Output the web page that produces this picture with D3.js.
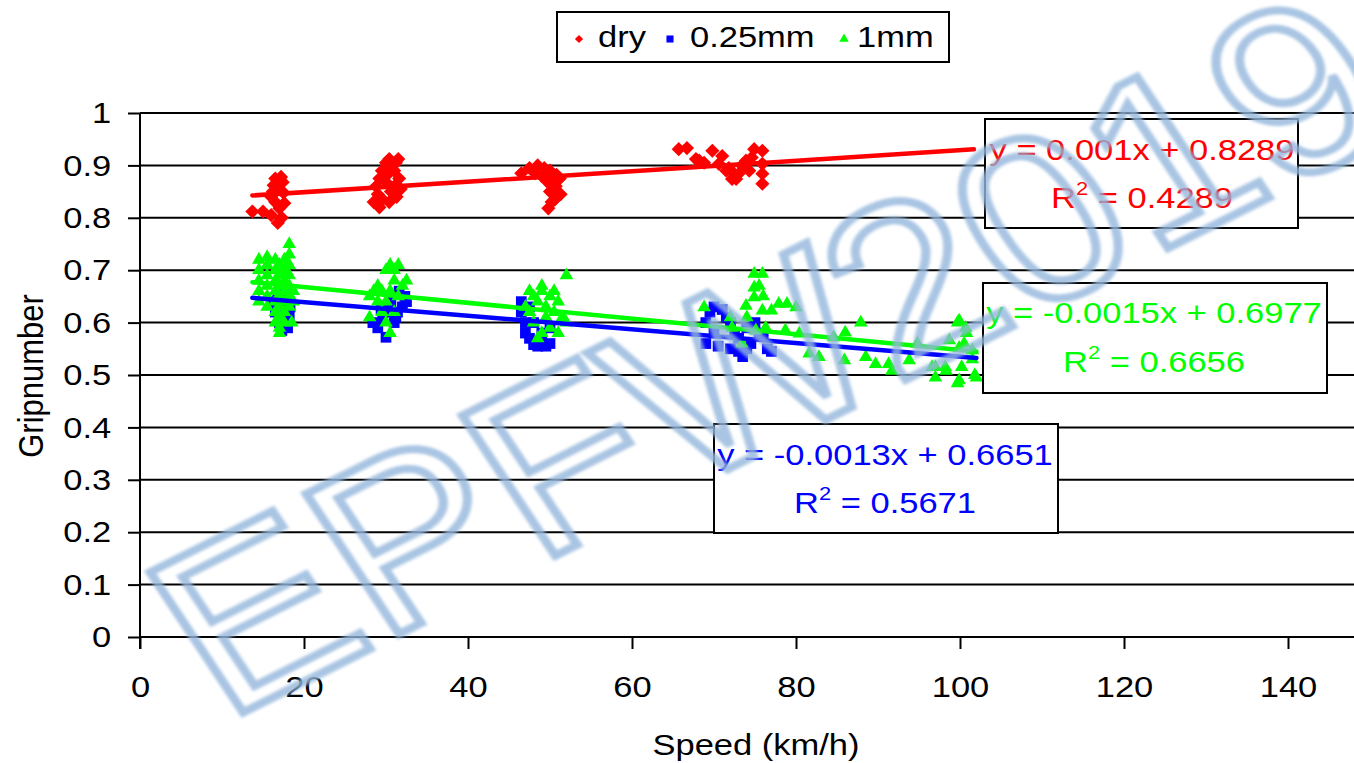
<!DOCTYPE html>
<html>
<head>
<meta charset="utf-8">
<script src="https://cdn.jsdelivr.net/npm/d3@7"></script>
<style>
  body { margin: 0; background: #fff; }
  svg { display: block; font-family: "Liberation Sans", Arial, sans-serif; }
</style>
</head>
<body>
<div id="chart"></div>
<script>
// series values: [speed km/h, gripnumber]
const dryData = [
  [13.7,0.812],[15.0,0.812],[16.0,0.84],[16.3,0.862],[16.5,0.875],[17.2,0.878],[16.8,0.855],[17.5,0.848],
  [16.5,0.83],[17.0,0.818],[17.3,0.80],[16.8,0.79],[16.0,0.805],[17.6,0.828],[16.2,0.85],[17.4,0.868],
  [28.5,0.83],[29.0,0.845],[28.8,0.86],[29.2,0.875],[29.5,0.89],[30.0,0.905],[30.4,0.912],[31.2,0.905],
  [31.5,0.912],[31.0,0.89],[31.6,0.875],[30.2,0.865],[30.6,0.85],[31.3,0.84],[31.8,0.855],[30.0,0.88],
  [29.6,0.835],[31.0,0.86],[30.5,0.895],[29.2,0.82],[30.4,0.83],
  [46.5,0.885],[47.5,0.895],[48.5,0.9],[49.3,0.895],[50.0,0.89],[49.0,0.88],[50.2,0.872],[51.2,0.875],
  [50.7,0.86],[50.0,0.85],[51.3,0.845],[50.6,0.835],[49.8,0.818],[50.2,0.83],[49.6,0.87],[48.2,0.885],[50.8,0.882],
  [65.7,0.931],[66.7,0.933],[68.2,0.909],[68.8,0.905],[69.8,0.928],[71.0,0.918],[71.8,0.895],[72.2,0.874],
  [73.0,0.884],[73.9,0.909],[74.9,0.931],[75.9,0.928],[75.9,0.903],[75.9,0.884],[75.9,0.865],[72.7,0.874],
  [71.5,0.89],[70.6,0.903],[67.8,0.912],[74.3,0.89],[73.4,0.9],[72.4,0.885],[74.6,0.915]
];
const mm025Data = [
  [16.2,0.64],[16.8,0.65],[17.5,0.66],[17.0,0.63],[16.5,0.62],[17.0,0.60],[17.5,0.61],[18.2,0.61],
  [18.0,0.59],[17.3,0.585],[18.3,0.63],
  [28.4,0.60],[29.0,0.59],[29.6,0.61],[30.0,0.572],[30.4,0.62],[31.0,0.60],[31.4,0.62],[32.0,0.63],
  [32.3,0.65],[31.6,0.66],[30.6,0.64],[29.4,0.625],[31.2,0.61],[32.5,0.64],
  [46.5,0.62],[47.0,0.60],[47.0,0.58],[47.5,0.57],[48.0,0.558],[48.5,0.555],[49.0,0.56],[49.5,0.555],
  [50.0,0.56],[49.0,0.58],[48.0,0.60],[47.5,0.63],[46.5,0.64],[50.0,0.59],
  [69.0,0.60],[69.5,0.62],[70.0,0.63],[71.0,0.625],[71.5,0.61],[72.0,0.60],[70.0,0.58],[69.0,0.56],
  [70.5,0.555],[72.0,0.55],[73.0,0.545],[73.5,0.535],[74.0,0.55],[74.5,0.56],[75.5,0.58],[76.5,0.55],
  [77.0,0.545],[72.5,0.58],[73.0,0.57],[75.0,0.60],[74.0,0.59],[76.0,0.575]
];
const mm1Data = [
  [14.5,0.72],[14.5,0.70],[14.5,0.68],[14.5,0.66],[14.5,0.64],[15.5,0.725],[15.5,0.71],[15.5,0.69],
  [15.5,0.67],[15.5,0.65],[15.5,0.63],[16.5,0.72],[16.5,0.70],[16.5,0.68],[16.5,0.66],[16.5,0.64],
  [16.5,0.62],[16.5,0.60],[17.0,0.71],[17.0,0.69],[17.0,0.67],[17.0,0.65],[17.0,0.63],[17.0,0.61],
  [17.0,0.59],[17.0,0.58],[17.6,0.72],[17.6,0.70],[17.6,0.68],[17.6,0.66],[17.6,0.64],[17.6,0.62],
  [17.6,0.60],[18.2,0.75],[18.2,0.73],[18.2,0.71],[18.2,0.69],[18.2,0.67],[18.2,0.65],[18.2,0.63],
  [18.7,0.66],[18.7,0.64],[18.5,0.60],
  [28.0,0.65],[28.5,0.66],[29.0,0.67],[29.5,0.66],[29.0,0.64],[28.0,0.61],[30.0,0.70],[30.5,0.71],
  [31.0,0.70],[31.5,0.71],[31.0,0.68],[30.5,0.66],[31.5,0.65],[32.0,0.67],[32.5,0.68],[30.0,0.60],
  [30.5,0.58],[31.0,0.62],[29.5,0.62],[30.0,0.64],
  [47.0,0.63],[47.5,0.66],[48.0,0.65],[48.5,0.64],[49.0,0.66],[49.5,0.63],[50.0,0.65],[50.5,0.62],
  [51.0,0.64],[51.5,0.61],[52.0,0.69],[48.0,0.60],[49.0,0.58],[50.0,0.59],[51.0,0.58],[52.0,0.60],
  [47.5,0.62],[50.5,0.66],[49.5,0.61],[48.5,0.57],[49.0,0.67],
  [68.8,0.629],[73.9,0.632],[74.9,0.693],[75.9,0.693],[74.9,0.667],[74.9,0.648],[75.9,0.623],[77.0,0.623],
  [77.9,0.636],[78.9,0.636],[80.0,0.629],[75.1,0.585],[73.4,0.56],[72.2,0.59],[72.0,0.61],[78.7,0.585],
  [80.4,0.579],[76.3,0.59],[75.5,0.67],[76.0,0.65],[74.0,0.61],
  [81.6,0.541],[82.8,0.534],[84.6,0.572],[86.0,0.581],[85.9,0.528],[87.9,0.60],[88.5,0.534],[89.7,0.521],
  [91.3,0.521],[91.7,0.508],[93.8,0.528],[94.8,0.56],[96.6,0.515],[97.0,0.495],[98.3,0.508],[98.7,0.566],
  [99.7,0.60],[100.7,0.59],[99.9,0.552],[101.5,0.547],[100.2,0.515],[102.0,0.495],[99.7,0.484],
  [99.9,0.604],[100.8,0.58],[100.5,0.56],[97.0,0.515],[98.2,0.515],[99.9,0.49],[101.8,0.50],[101.5,0.53]
];

const seriesNames = ["dry", "0.25mm", "1mm"];
const seriesColors = ["#ff0000", "#0000ff", "#00ff00"];
const trendSlopes = [0.001, -0.0013, -0.0015];
const trendIntercepts = [0.8289, 0.6651, 0.6977];
const trendStarts = [13.7, 13.7, 13.7];
const trendEnds = [101.7, 102, 102];
const eqLabels = ["y = 0.001x + 0.8289", "y = -0.0013x + 0.6651", "y = -0.0015x + 0.6977"];
const r2Labels = ["0.4289", "0.5671", "0.6656"];

const xTicks = [0, 20, 40, 60, 80, 100, 120, 140];
const yTicks = [0, 0.1, 0.2, 0.3, 0.4, 0.5, 0.6, 0.7, 0.8, 0.9, 1];
const yTickLabels = ["0", "0.1", "0.2", "0.3", "0.4", "0.5", "0.6", "0.7", "0.8", "0.9", "1"];

const W = 1354, H = 763;
const stretch = 1.15; // glyphs in the picture are a bit wide

const svg = d3.select('#chart').append('svg')
  .attr('width', W).attr('height', H);
svg.append('rect').attr('width', W).attr('height', H).attr('fill', '#fff');

const x = d3.scaleLinear().domain([0, 150]).range([140, 1370]);
const y = d3.scaleLinear().domain([0, 1]).range([637, 113]);

// horizontal gridlines
svg.append('g').selectAll('line')
  .data(yTicks).join('line')
  .attr('x1', x(0)).attr('x2', W)
  .attr('y1', d => y(d)).attr('y2', d => y(d))
  .attr('stroke', '#000').attr('stroke-width', 2);

// axes
const yAxis = svg.append('g')
  .attr('transform', `translate(${x(0)},0)`)
  .call(d3.axisLeft(y).tickValues(yTicks)
    .tickFormat((d, i) => yTickLabels[i])
    .tickSize(12).tickSizeOuter(0).tickPadding(13));
const xAxis = svg.append('g')
  .attr('transform', `translate(0,${y(0)})`)
  .call(d3.axisBottom(x).tickValues(xTicks)
    .tickFormat(d3.format('d'))
    .tickSize(12).tickSizeOuter(0).tickPadding(27));

[yAxis, xAxis].forEach(g => {
  g.selectAll('path.domain').attr('stroke', '#000').attr('stroke-width', 2);
  g.selectAll('.tick line').attr('stroke', '#000').attr('stroke-width', 2);
  g.selectAll('.tick text')
    .attr('font-size', 30)
    .attr('font-family', '"Liberation Sans", Arial, sans-serif')
    .attr('fill', '#000')
    .attr('transform', `scale(${stretch},1)`);
});
xAxis.select('path.domain').remove();
yAxis.select('path.domain').attr('d', `M0,${y(1)}V${y(0) + 12}`);

// axis titles
svg.append('text')
  .attr('transform', `translate(756,755) scale(${stretch},1)`)
  .attr('text-anchor', 'middle')
  .attr('font-size', 30)
  .text('Speed (km/h)');
svg.append('text')
  .attr('transform', `translate(43,376) scale(${stretch},1) rotate(-90)`)
  .attr('text-anchor', 'middle')
  .attr('font-size', 31)
  .text('Gripnumber');

// markers
const markerPath = [
  d3.symbol(d3.symbolSquare, 100)(),
  d3.symbol(d3.symbolSquare, 115)(),
  d3.symbol(d3.symbolTriangle, 80)()
];
const markerRot = [45, 0, 0];
const allData = [dryData, mm025Data, mm1Data];

allData.forEach((data, i) => {
  svg.append('g').selectAll('path')
    .data(data).join('path')
    .attr('d', markerPath[i])
    .attr('transform', d => `translate(${x(d[0])},${y(d[1])}) rotate(${markerRot[i]})`)
    .attr('fill', seriesColors[i]);
});

// trend lines
seriesNames.forEach((n, i) => {
  const pts = [trendStarts[i], trendEnds[i]].map(v => [v, trendSlopes[i] * v + trendIntercepts[i]]);
  svg.append('path')
    .attr('d', d3.line().x(d => x(d[0])).y(d => y(d[1]))(pts))
    .attr('stroke', seriesColors[i])
    .attr('stroke-width', 4.5)
    .attr('stroke-linecap', 'round')
    .attr('fill', 'none');
});

// equation boxes
const boxes = [
  { x: 985, y: 119, w: 313, h: 109, cx: 1142, b1: 160, b2: 208 },
  { x: 714, y: 424, w: 344, h: 109, cx: 885, b1: 465, b2: 513 },
  { x: 983, y: 283, w: 344, h: 110, cx: 1154, b1: 323, b2: 372 }
];
boxes.forEach((b, i) => {
  const g = svg.append('g');
  g.append('rect')
    .attr('x', b.x).attr('y', b.y).attr('width', b.w).attr('height', b.h)
    .attr('fill', '#fff').attr('stroke', '#000').attr('stroke-width', 2);
  g.append('text')
    .attr('transform', `translate(${b.cx},${b.b1}) scale(${stretch},1)`)
    .attr('text-anchor', 'middle').attr('font-size', 30)
    .attr('fill', seriesColors[i])
    .text(eqLabels[i]);
  const t = g.append('text')
    .attr('transform', `translate(${b.cx},${b.b2}) scale(${stretch},1)`)
    .attr('text-anchor', 'middle').attr('font-size', 30)
    .attr('fill', seriesColors[i]);
  t.append('tspan').text('R');
  t.append('tspan').attr('font-size', 19).attr('dy', -13).text('2');
  t.append('tspan').attr('dy', 13).text(' = ' + r2Labels[i]);
});

// legend
svg.append('rect')
  .attr('x', 557).attr('y', 12).attr('width', 392).attr('height', 50)
  .attr('fill', '#fff').attr('stroke', '#000').attr('stroke-width', 2);
const legMarkers = [
  d3.symbol(d3.symbolSquare, 34)(),
  d3.symbol(d3.symbolSquare, 50)(),
  d3.symbol(d3.symbolTriangle, 38)()
];
const legX = [579, 670, 844];
const legTextX = [598, 690, 857];
seriesNames.forEach((n, i) => {
  svg.append('path')
    .attr('d', legMarkers[i])
    .attr('transform', `translate(${legX[i]},39) rotate(${markerRot[i]})`)
    .attr('fill', seriesColors[i]);
  svg.append('text')
    .attr('transform', `translate(${legTextX[i]},47) scale(${stretch},1)`)
    .attr('font-size', 30)
    .text(n);
});

// watermark
const defs = svg.append('defs');
defs.append('filter').attr('id', 'soft')
  .append('feGaussianBlur').attr('stdDeviation', 1.6);
const wm = svg.append('text')
  .attr('transform', `translate(224,722) scale(${stretch},1) rotate(-30)`)
  .attr('font-size', 235)
  .attr('fill', 'none')
  .attr('stroke', '#93b6dc')
  .attr('stroke-width', 8)
  .attr('stroke-opacity', 0.8)
  .attr('filter', 'url(#soft)');
wm.append('tspan').text('EPFW');
wm.append('tspan').attr('dx', -6).attr('letter-spacing', -2).text('2019');
</script>
</body>
</html>
